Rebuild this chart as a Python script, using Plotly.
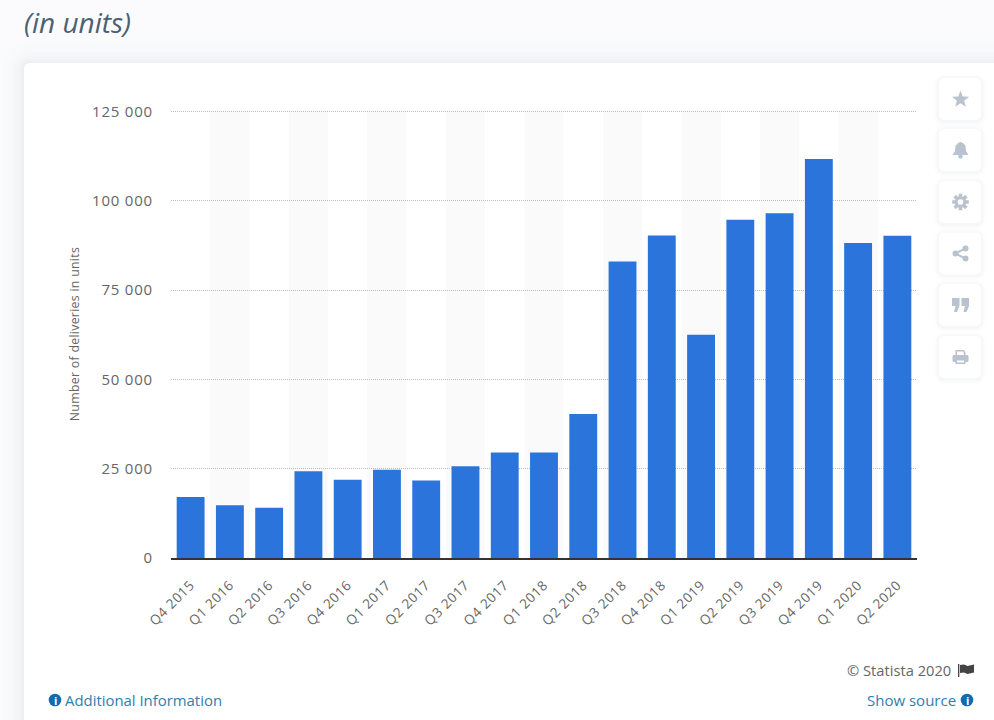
import math
import plotly.graph_objects as go

W, H = 994, 720

quarters = ["Q4 2015", "Q1 2016", "Q2 2016", "Q3 2016", "Q4 2016", "Q1 2017", "Q2 2017", "Q3 2017",
            "Q4 2017", "Q1 2018", "Q2 2018", "Q3 2018", "Q4 2018", "Q1 2019", "Q2 2019", "Q3 2019",
            "Q4 2019", "Q1 2020", "Q2 2020"]
deliveries = [17100, 14800, 14100, 24300, 21900, 24700, 21700, 25700, 29500, 29500, 40300,
              83000, 90300, 62500, 94700, 96500, 111700, 88200, 90200]
y_ticks = [0, 25000, 50000, 75000, 100000, 125000]
y_top = 125400  # a bit over the top tick, plotly drops gridlines within 1px of the range edge

BLUE = "#2a74db"
ICON = "#b9c3d0"
LINK = "#2f7eb0"
DARK_BLUE = "#0f6cb4"

# pixel rows of the 0 and 125 000 gridlines in the window
ZERO_ROW = 558
TOP_TICK_ROW = 111.5
top_row = ZERO_ROW - (ZERO_ROW - TOP_TICK_ROW) * y_top / y_ticks[-1]


# pixel -> paper helpers, margins are 0 so paper is the whole window
def px(x):
    return x / W


def py(y):
    return 1 - y / H


def poly(points):
    return "M " + " L ".join(f"{px(x):.5f} {py(y):.5f}" for x, y in points) + " Z"


def round_rect(x0, y0, x1, y1, r):
    pts = []
    for cx, cy, a0 in [(x1 - r, y0 + r, -90), (x1 - r, y1 - r, 0), (x0 + r, y1 - r, 90), (x0 + r, y0 + r, 180)]:
        for k in range(7):
            a = math.radians(a0 + k * 15)
            pts.append((cx + r * math.cos(a), cy + r * math.sin(a)))
    return poly(pts)


shapes = []


def add_path(path, fill, layer="below"):
    shapes.append(dict(type="path", xref="paper", yref="paper", path=path, fillcolor=fill,
                       line=dict(width=0), layer=layer))


def add_circle(cx, cy, r, fill, layer="above"):
    shapes.append(dict(type="circle", xref="paper", yref="paper", x0=px(cx - r), x1=px(cx + r),
                       y0=py(cy - r), y1=py(cy + r), fillcolor=fill, line=dict(width=0), layer=layer))


# card with soft shadow
for grow, alpha in [(22, 0.006), (16, 0.008), (11, 0.010), (7, 0.012), (4, 0.014), (2, 0.016)]:
    add_path(round_rect(24 - grow, 63 - grow, 1040, 780, 6 + grow), f"rgba(60,80,120,{alpha})")
add_path(round_rect(24, 63, 1040, 780, 6), "#ffffff")

# alternating stripes behind the bars
for i in range(1, len(quarters), 2):
    shapes.append(dict(type="rect", xref="x", yref="y", x0=i - 0.5, x1=i + 0.5, y0=0, y1=y_ticks[-1],
                       fillcolor="#fafafa", line=dict(width=0), layer="below"))

# side buttons
centers = [99, 150, 202, 253.5, 305, 357]
for cy in centers:
    for grow, alpha in [(5, 0.012), (3, 0.016), (1.5, 0.02)]:
        add_path(round_rect(939 - grow, cy - 21 - grow + 1, 981 + grow, cy + 21 + grow + 1, 5 + grow),
                 f"rgba(60,80,120,{alpha})", layer="above")
    add_path(round_rect(939, cy - 21, 981, cy + 21, 5), "#ffffff", layer="above")

ix = 960.5
# star
cy = centers[0]
add_path(poly([(ix + (9 if k % 2 == 0 else 3.8) * math.sin(k * math.pi / 5),
                cy + 0.5 - (9 if k % 2 == 0 else 3.8) * math.cos(k * math.pi / 5)) for k in range(10)]),
         ICON, layer="above")
# bell
cy = centers[1]
add_path(poly([(ix - 8, cy + 5), (ix - 5.5, cy + 1), (ix - 5, cy - 4), (ix - 2.5, cy - 7), (ix, cy - 8),
               (ix + 2.5, cy - 7), (ix + 5, cy - 4), (ix + 5.5, cy + 1), (ix + 8, cy + 5)]), ICON, layer="above")
add_circle(ix, cy + 6.5, 2.2, ICON)
# gear
cy = centers[2]
gear = []
for k in range(8):
    a = k * math.pi / 4
    for da, r in [(-0.22, 8.5), (0.22, 8.5), (0.30, 5.8), (math.pi / 4 - 0.30, 5.8)]:
        gear.append((ix + r * math.cos(a + da), cy + r * math.sin(a + da)))
add_path(poly(gear), ICON, layer="above")
add_circle(ix, cy, 2.8, "#ffffff")
# share
cy = centers[3]
add_path(poly([(ix + 5, cy - 6), (ix + 6, cy - 4.5), (ix - 5, cy + 1), (ix - 6, cy - 1)]), ICON, layer="above")
add_path(poly([(ix - 6, cy + 1), (ix - 5, cy - 1), (ix + 6, cy + 4.5), (ix + 5, cy + 6)]), ICON, layer="above")
add_circle(ix + 5, cy - 5, 3, ICON)
add_circle(ix - 5, cy, 3, ICON)
add_circle(ix + 5, cy + 5, 3, ICON)
# quotes
cy = centers[4]
for dx in (-8.5, 1):
    add_path(poly([(ix + dx, cy - 7), (ix + dx + 7.5, cy - 7), (ix + dx + 7.5, cy + 1), (ix + dx + 5, cy + 7),
                   (ix + dx + 2, cy + 7), (ix + dx + 3.5, cy + 1), (ix + dx, cy + 1)]), ICON, layer="above")
# printer
cy = centers[5]
add_path(round_rect(ix - 8, cy - 2, ix + 8, cy + 5, 1.5), ICON, layer="above")
add_path(poly([(ix - 5, cy - 7), (ix + 3, cy - 7), (ix + 5, cy - 5), (ix + 5, cy - 1), (ix - 5, cy - 1)]), ICON, layer="above")
add_path(poly([(ix - 3.5, cy - 5.5), (ix + 3, cy - 5.5), (ix + 3.5, cy - 2), (ix - 3.5, cy - 2)]), "#ffffff", layer="above")
add_path(poly([(ix - 5, cy + 2), (ix + 5, cy + 2), (ix + 5, cy + 7), (ix - 5, cy + 7)]), ICON, layer="above")
add_path(poly([(ix - 3.5, cy + 3.5), (ix + 3.5, cy + 3.5), (ix + 3.5, cy + 5.5), (ix - 3.5, cy + 5.5)]), "#ffffff", layer="above")

# flag next to copyright
add_path(poly([(958, 664), (959.3, 664), (959.3, 677), (958, 677)]), "#444444", layer="above")
add_path(poly([(960, 665), (964, 664.5), (967.5, 666), (974, 664.5), (974, 672.5), (967.5, 674), (964, 672.5), (960, 673)]),
         "#444444", layer="above")

annotations = []


def add_text(x, y, text, size, color, anchor="left", italic=False):
    annotations.append(dict(xref="paper", yref="paper", x=px(x), y=py(y), text=text, showarrow=False,
                            xanchor=anchor, yanchor="middle",
                            font=dict(family="Open Sans", size=size, color=color,
                                      style="italic" if italic else "normal")))


def info_icon(cx, cy):
    add_circle(cx, cy, 6.3, DARK_BLUE)
    annotations.append(dict(xref="paper", yref="paper", x=px(cx), y=py(cy), text="<b>i</b>", showarrow=False,
                            xanchor="center", yanchor="middle",
                            font=dict(family="Open Sans", size=11, color="#ffffff")))


add_text(22, 22, "(in units)", 28, "#4b6075", italic=True)
add_text(63, 700, "Additional Information", 14.9, LINK)
info_icon(55, 700)
add_text(953, 670, "© Statista 2020", 14.7, "#666666", anchor="right")
add_text(958, 700, "Show source", 15, LINK, anchor="right")
info_icon(967, 700)

fig = go.Figure(go.Bar(x=quarters, y=deliveries, marker=dict(color=BLUE, line=dict(width=0))))

fig.update_layout(
    width=W, height=H,
    margin=dict(l=0, r=0, t=0, b=0),
    paper_bgcolor="#fbfbfd",
    plot_bgcolor="rgba(0,0,0,0)",
    bargap=0.29,
    separators=". ",
    showlegend=False,
    shapes=shapes,
    annotations=annotations,
    font=dict(family="Open Sans", color="#666666"),
)
fig.update_xaxes(
    domain=[171 / W, 917 / W],
    type="category",
    tickangle=-45,
    tickfont=dict(size=13.5, color="#666666"),
    showgrid=False,
    showline=True, linecolor="#333333", linewidth=2,
    ticks="outside", ticklen=12, tickcolor="rgba(0,0,0,0)",
    automargin=False,
)
fig.update_yaxes(
    domain=[(H - ZERO_ROW) / H, (H - top_row) / H],
    range=[0, y_top],
    tickvals=y_ticks,
    tickformat=",d",
    tickfont=dict(size=15, color="#666666"),
    ticks="outside", ticklen=14, tickcolor="rgba(0,0,0,0)",
    gridcolor="#bdbdbd", griddash="1px,1px", gridwidth=1,
    zeroline=False,
    showline=False,
    title=dict(text="Number of deliveries in units", font=dict(size=12.3, color="#666666"), standoff=15),
    automargin=False,
)

# body margin off so the figure sits at 0,0, plus the wider letter spacing of the original labels
post = """
document.body.style.margin = '0';
document.body.style.overflow = 'hidden';
var st = document.createElement('style');
st.textContent = '.xtick text{letter-spacing:.6px} .ytick text{letter-spacing:.8px} .ytitle{letter-spacing:.3px}';
document.head.appendChild(st);
"""
fig.write_html("out.html", post_script=post, config=dict(displayModeBar=False))
